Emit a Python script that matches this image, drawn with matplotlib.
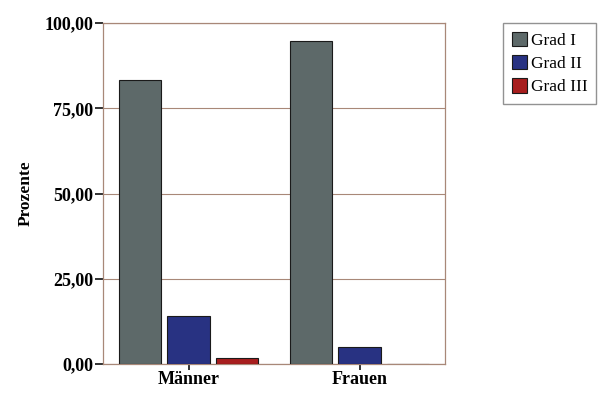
import numpy as np
import matplotlib
matplotlib.use("Agg")
import matplotlib.pyplot as plt

# data
groups = ["Männer", "Frauen"]
series = ["Grad I", "Grad II", "Grad III"]
grad_1 = [83.3, 94.7]
grad_2 = [14.1, 5.0]
grad_3 = [1.8, 0.0]
colors = ["#5d6969", "#283282", "#a81e1e"]
yticks = [0, 25, 50, 75, 100]
ytick_labels = ["0,00", "25,00", "50,00", "75,00", "100,00"]

plt.rcParams["font.family"] = ["Liberation Serif", "DejaVu Serif"]

fig = plt.figure(figsize=(6, 3.94), dpi=100)
ax = fig.add_axes([103 / 600, 1 - 364 / 394, 342 / 600, 341 / 394])

x = np.arange(len(groups))
width = 0.246
pitch = 0.284
for i, (vals, name) in enumerate(zip([grad_1, grad_2, grad_3], series)):
    ax.bar(x + (i - 1) * pitch, vals, width, color=colors[i],
           edgecolor="#1a1a1a", linewidth=0.8, label=name, zorder=3)

ax.set_xlim(-0.5, 1.5)
ax.set_ylim(0, 100)
ax.set_yticks(yticks)
ax.set_yticklabels(ytick_labels, fontsize=13, fontweight="bold")
ax.set_xticks(x)
ax.set_xticklabels(groups, fontsize=13, fontweight="bold")
ax.tick_params(axis="y", length=6, width=1.3, color="#222222", pad=1)
ax.tick_params(axis="x", length=4, width=1.3, color="#222222", pad=1)
ax.yaxis.grid(True, color="#a88878", linewidth=0.8, zorder=0)
for s in ax.spines.values():
    s.set_color("#a88878")
    s.set_linewidth(0.9)

ax.set_ylabel("Prozente", fontsize=12.5, fontweight="bold", labelpad=8)

ax.legend(loc="upper left", bbox_to_anchor=(503 / 600, 1 - 23 / 394),
          bbox_transform=fig.transFigure, fontsize=12.5, frameon=True,
          fancybox=False, edgecolor="#777777", handlelength=0.9,
          handleheight=0.9, handletextpad=0.2, borderpad=0.5,
          borderaxespad=0, labelspacing=0.35)

fig.savefig("out.png", dpi=100)
